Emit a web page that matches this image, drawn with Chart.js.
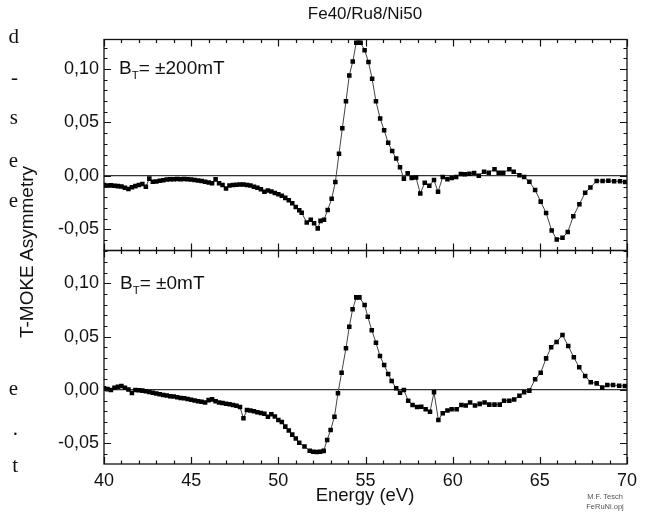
<!DOCTYPE html>
<html><head><meta charset="utf-8">
<script src="https://cdn.jsdelivr.net/npm/chart.js@4.4.1/dist/chart.umd.min.js"></script>
<style>
html,body{margin:0;padding:0;background:#fff;}
#wrap{position:relative;width:648px;height:519px;overflow:hidden;font-family:"Liberation Sans",Arial,sans-serif;background:#fff;}
canvas{position:absolute;left:0;}
.t{position:absolute;white-space:nowrap;color:#111;line-height:1;}
.c{transform:translate(-50%,-50%);}
.frag{position:absolute;font-family:"Liberation Serif","Times New Roman",serif;font-size:21px;color:#111;line-height:1;transform:translate(-100%,-50%);}
</style></head><body>
<div id="wrap">
<canvas id="cTop" width="648" height="262" style="top:0"></canvas>
<canvas id="cBot" width="648" height="279" style="top:240px"></canvas>

<div class="t c" style="left:365px;top:13px;font-size:17px;">Fe40/Ru8/Ni50</div>
<div class="t" style="left:26px;top:252px;font-size:19px;transform:translate(-50%,-50%) rotate(-90deg);">T-MOKE Asymmetry</div>
<div class="t c" style="left:365px;top:495px;font-size:18.5px;">Energy (eV)</div>
<div class="t" style="left:119px;top:58px;font-size:19px;">B<span style="font-size:11.5px;position:relative;top:5px;">T</span>= ±200mT</div>
<div class="t" style="left:120px;top:273px;font-size:19px;">B<span style="font-size:11.5px;position:relative;top:5px;">T</span>= ±0mT</div>
<div class="t c" style="left:605px;top:497px;font-size:7.5px;color:#555;">M.F. Tesch</div>
<div class="t c" style="left:605px;top:507px;font-size:7.5px;color:#555;">FeRuNi.opj</div>

<div class="frag" style="left:19px;top:36px;">d</div>
<div class="frag" style="left:18px;top:77px;">-</div>
<div class="frag" style="left:18px;top:117px;">s</div>
<div class="frag" style="left:18px;top:160px;">e</div>
<div class="frag" style="left:18px;top:200px;">e</div>
<div class="frag" style="left:18px;top:388px;">e</div>
<div class="frag" style="left:18px;top:428px;">.</div>
<div class="frag" style="left:18px;top:465px;">t</div>
</div>
<script>
// ---- data ----
const energyTop = [40.0,40.2,40.4,40.6,40.8,41.0,41.2,41.4,41.6,41.8,42.0,42.2,42.4,42.6,42.8,43.0,43.2,43.4,43.6,43.8,44.0,44.2,44.4,44.6,44.8,45.0,45.2,45.4,45.6,45.8,46.0,46.2,46.4,46.6,46.8,47.0,47.2,47.4,47.6,47.8,48.0,48.2,48.4,48.6,48.8,49.0,49.2,49.4,49.6,49.8,50.0,50.2,50.4,50.6,50.8,51.0,51.2,
51.34,51.63,51.86,52.05,52.26,52.42,52.62,52.83,53.06,53.27,53.48,53.67,53.88,54.07,54.27,54.47,54.60,54.72,54.95,55.17,55.38,55.60,55.84,56.07,56.30,56.53,56.76,56.98,57.20,57.42,57.65,57.90,58.14,58.40,58.66,58.93,59.16,59.43,59.70,59.95,60.20,60.47,60.70,60.96,61.23,61.50,61.80,62.07,62.40,62.64,62.90,63.25,63.50,63.83,64.10,64.40,64.73,65.05,65.36,65.68,65.97,66.30,66.60,66.92,67.27,67.60,67.90,68.26,68.60,68.93,69.26,69.60,69.90];
const asymTop = [-0.0085,-0.0090,-0.0088,-0.0092,-0.0095,-0.0098,-0.0110,-0.0122,-0.0105,-0.0095,-0.0085,-0.0075,-0.0100,-0.0025,-0.0055,-0.0052,-0.0045,-0.0040,-0.0033,-0.0030,-0.0030,-0.0028,-0.0030,-0.0029,-0.0031,-0.0034,-0.0038,-0.0042,-0.0048,-0.0055,-0.0062,-0.0068,-0.0032,-0.0068,-0.0085,-0.0118,-0.0090,-0.0085,-0.0083,-0.0080,-0.0080,-0.0085,-0.0090,-0.0100,-0.0110,-0.0125,-0.0148,-0.0135,-0.0145,-0.0160,-0.0172,-0.0185,-0.0205,-0.0228,-0.0255,-0.0290,-0.0320,
-0.0345,-0.0435,-0.0410,-0.0443,-0.0490,-0.0420,-0.0410,-0.0318,-0.0214,-0.0057,0.0207,0.0446,0.0698,0.0940,0.1070,0.1245,0.1245,0.1245,0.1176,0.1066,0.0908,0.0698,0.0537,0.0427,0.0310,0.0233,0.0163,0.0082,-0.0025,0.0025,-0.0020,-0.0015,-0.0165,-0.0063,-0.0091,-0.0038,-0.0148,-0.0010,-0.0030,-0.0020,-0.0010,0.0019,0.0016,0.0020,0.0028,0.0003,0.0040,0.0030,0.0063,0.0030,0.0030,0.0063,0.0040,0.0007,-0.0010,-0.0054,-0.0132,-0.0240,-0.0346,-0.0510,-0.0594,-0.0578,-0.0525,-0.0377,-0.0264,-0.0157,-0.0107,-0.0047,-0.0047,-0.0045,-0.0050,-0.0050,-0.0057];

const energyBottom = [40.0,40.2,40.4,40.6,40.8,41.0,41.2,41.4,41.6,41.8,42.0,42.2,42.4,42.6,42.8,43.0,43.2,43.4,43.6,43.8,44.0,44.2,44.4,44.6,44.8,45.0,45.2,45.4,45.6,45.8,46.0,46.2,46.4,46.6,46.8,47.0,47.2,47.4,47.6,47.8,48.0,48.2,48.4,48.6,48.8,49.0,49.2,49.4,49.6,49.8,50.0,50.2,50.4,50.6,50.8,51.0,
51.2,51.5,51.8,52.0,52.2,52.4,52.6,52.8,53.0,53.22,53.42,53.63,53.88,54.07,54.26,54.47,54.65,54.95,55.13,55.36,55.60,55.83,56.07,56.30,56.50,56.76,56.98,57.20,57.45,57.70,57.96,58.20,58.45,58.70,58.93,59.18,59.43,59.70,59.94,60.23,60.50,60.75,61.00,61.28,61.55,61.83,62.10,62.40,62.70,62.95,63.25,63.53,63.83,64.10,64.40,64.73,65.05,65.36,65.65,65.96,66.30,66.63,66.95,67.26,67.60,67.92,68.26,68.58,68.87,69.20,69.55,69.88];
const asymBottom = [0.0015,0.0008,0.0000,0.0020,0.0030,0.0037,0.0020,0.0005,-0.0028,0.0000,-0.0002,-0.0006,-0.0012,-0.0018,-0.0025,-0.0032,-0.0040,-0.0047,-0.0052,-0.0058,-0.0062,-0.0068,-0.0074,-0.0078,-0.0085,-0.0092,-0.0098,-0.0105,-0.0110,-0.0118,-0.0095,-0.0088,-0.0105,-0.0118,-0.0122,-0.0128,-0.0134,-0.0140,-0.0148,-0.0160,-0.0265,-0.0187,-0.0192,-0.0200,-0.0208,-0.0215,-0.0222,-0.0250,-0.0228,-0.0248,-0.0280,-0.0300,-0.0343,-0.0380,-0.0418,-0.0455,
-0.0493,-0.0530,-0.0568,-0.0578,-0.0580,-0.0578,-0.0570,-0.0468,-0.0374,-0.0250,-0.0031,0.0162,0.0390,0.0593,0.0755,0.0867,0.0867,0.0796,0.0686,0.0560,0.0443,0.0318,0.0234,0.0150,0.0084,0.0016,-0.0025,0.0000,-0.0100,-0.0140,-0.0160,-0.0156,-0.0180,-0.0203,-0.0022,-0.0280,-0.0218,-0.0193,-0.0180,-0.0180,-0.0140,-0.0146,-0.0118,-0.0146,-0.0130,-0.0118,-0.0137,-0.0137,-0.0137,-0.0100,-0.0100,-0.0090,-0.0053,-0.0022,-0.0006,0.0100,0.0162,0.0296,0.0400,0.0450,0.0515,0.0412,0.0306,0.0212,0.0131,0.0072,0.0062,0.0022,0.0047,0.0047,0.0040,0.0037];

const xTickValues = [40,45,50,55,60,65,70];
const xTickLabels = ['40','45','50','55','60','65','70'];
const yTickValues = [-0.05,0,0.05,0.10];
const yTickLabels = ['-0,05','0,00','0,05','0,10'];

// ---- drawing ----
const FONT = {family:'"Liberation Sans", Arial, sans-serif', size:18};

const framePlugin = {
  id:'frame',
  afterDraw(chart){
    const {ctx, chartArea:a, scales} = chart;
    const x = scales.x, y = scales.y;
    ctx.save();
    ctx.strokeStyle = '#111';
    ctx.lineWidth = 1.3;
    ctx.strokeRect(a.left, a.top, a.right - a.left, a.bottom - a.top);
    ctx.lineWidth = 1.2;
    ctx.beginPath();
    for (let i = 40; i <= 70; i++) {
      const px = Math.round(x.getPixelForValue(i)) + 0.5;
      const L = (i % 5 === 0) ? 7 : 3.5;
      ctx.moveTo(px, a.top); ctx.lineTo(px, a.top + L);
      ctx.moveTo(px, a.bottom); ctx.lineTo(px, a.bottom - L);
    }
    const i0 = Math.ceil(y.min * 100 - 1e-6), i1 = Math.floor(y.max * 100 + 1e-6);
    for (let i = i0; i <= i1; i++) {
      const py = Math.round(y.getPixelForValue(i / 100)) + 0.5;
      const L = (i % 5 === 0) ? 7 : 3.5;
      ctx.moveTo(a.left, py); ctx.lineTo(a.left + L, py);
      ctx.moveTo(a.right, py); ctx.lineTo(a.right - L, py);
    }
    ctx.stroke();
    ctx.restore();
  }
};

function makeChart(id, energies, values, yMin, yMax, pad, showX){
  return new Chart(document.getElementById(id), {
    type:'scatter',
    data:{datasets:[{
      data: energies.map((e,i)=>({x:e, y:values[i]})),
      showLine:true, borderColor:'#444', borderWidth:1, tension:0,
      pointStyle:'rect', pointRadius:3.2, pointHoverRadius:3.2,
      pointBackgroundColor:'#000', pointBorderColor:'#000', pointBorderWidth:0
    }]},
    options:{
      responsive:false, animation:false, devicePixelRatio:1,
      layout:{padding:pad},
      plugins:{legend:{display:false}, tooltip:{enabled:false}, title:{display:false}},
      scales:{
        x:{type:'linear', min:40, max:70, display:showX,
           grid:{display:false, drawTicks:false}, border:{display:false},
           afterBuildTicks:s=>{s.ticks = xTickValues.map(v=>({value:v}));},
           afterFit:s=>{s.height = showX ? 55 : 0; s.paddingLeft = 0; s.paddingRight = 0;},
           ticks:{padding:6, color:'#111', font:FONT, maxRotation:0, autoSkip:false,
                  callback:(v,i)=>xTickLabels[i]}},
        y:{type:'linear', min:yMin, max:yMax,
           grid:{drawTicks:false, lineWidth:1.3,
                 color:c=>(c.tick && Math.abs(c.tick.value)<1e-9) ? '#333' : 'rgba(0,0,0,0)'},
           border:{display:false},
           afterBuildTicks:s=>{s.ticks = yTickValues.map(v=>({value:v}));},
           afterFit:s=>{s.width = 104; s.paddingTop = 0; s.paddingBottom = 0;},
           ticks:{padding:5, color:'#111', font:FONT, autoSkip:false,
                  callback:(v,i)=>yTickLabels[i]}}
      }
    },
    plugins:[framePlugin]
  });
}

makeChart('cTop', energyTop, asymTop, -0.0697, 0.1276, {left:0, right:21, top:39.5, bottom:11.5}, false);
makeChart('cBot', energyBottom, asymBottom, -0.0693, 0.1306, {left:0, right:21, top:10.5, bottom:0}, true);
</script>
</body></html>
